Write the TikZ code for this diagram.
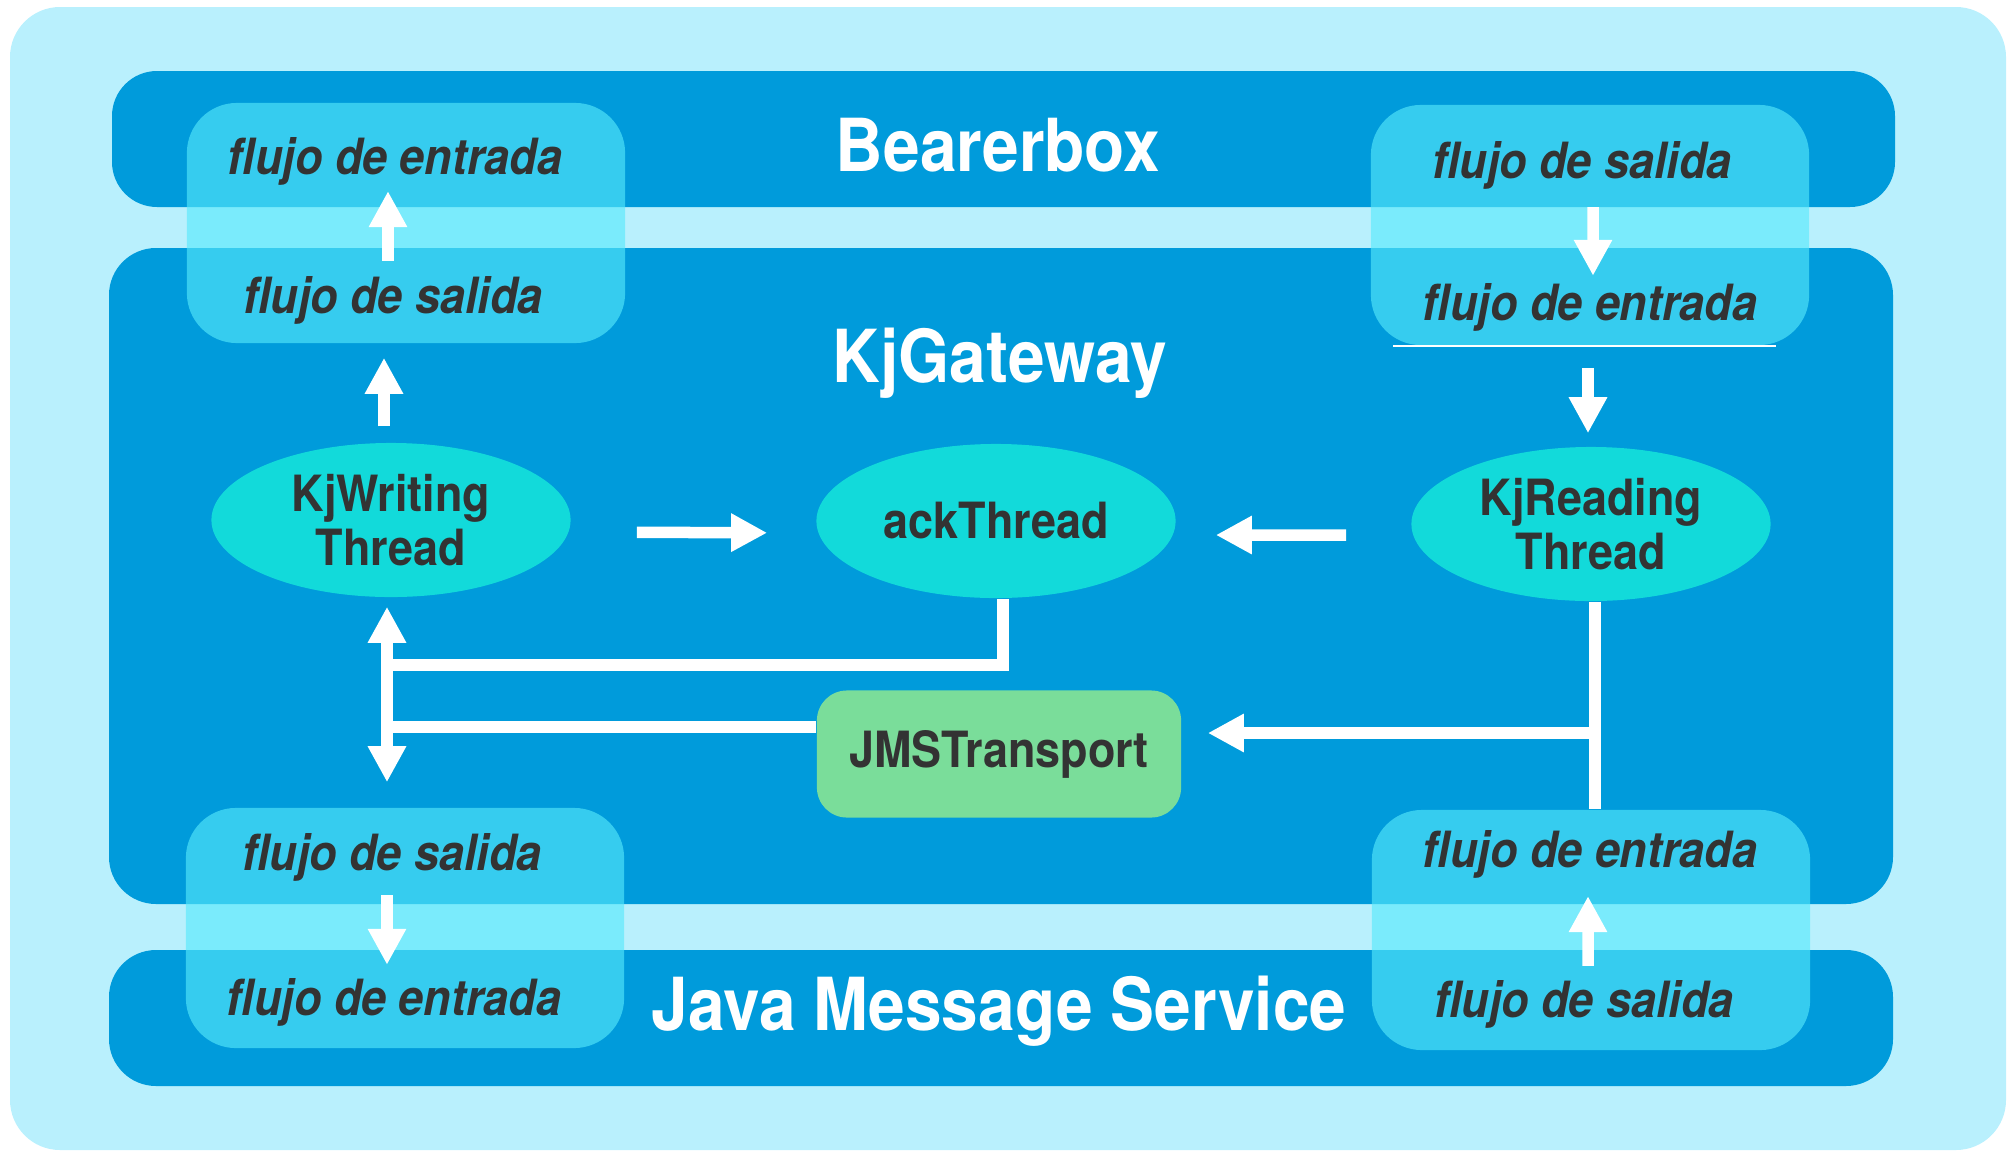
\documentclass[tikz,border=0pt]{standalone}
\usepackage{fontspec}
\setmainfont{TeX Gyre Heros}[FakeStretch=0.9]
\usetikzlibrary{shapes.geometric, arrows.meta}

\definecolor{lightbg}{RGB}{185,240,253}
\definecolor{bandblue}{RGB}{0,155,219}
\definecolor{boxcyan}{RGB}{86,233,252}
\definecolor{threadcyan}{RGB}{18,218,218}
\definecolor{jmsgreen}{RGB}{122,221,154}
\definecolor{txtgray}{RGB}{51,51,51}

\newcommand{\flowfont}{\fontsize{14.2pt}{15.4pt}\selectfont\bfseries}
\newcommand{\titlefont}{\fontsize{20.8pt}{24pt}\selectfont\bfseries}

\tikzset{
    flow/.style     = {font=\flowfont\itshape, text=txtgray, inner sep=0pt, anchor=base},
    title/.style    = {font=\titlefont, text=white, inner sep=0pt, anchor=base},
    flowbox/.style  = {rounded corners=0.5cm, fill=boxcyan, fill opacity=0.63, minimum width=4.38cm, minimum height=2.4cm},
    thread/.style   = {ellipse, fill=threadcyan, minimum width=3.59cm, minimum height=1.54cm, inner sep=0pt, align=center, font=\flowfont, text=txtgray},
    jmsbox/.style   = {rectangle, rounded corners=0.3cm, fill=jmsgreen, minimum width=3.64cm, minimum height=1.27cm, font=\flowfont, text=txtgray},
    wline/.style    = {white, line width=0.115cm},
    warrow/.style   = {wline, ->},
}

\begin{document}
\begin{tikzpicture}[x=0.01cm, y=-0.01cm, >={Triangle[length=0.36cm, width=0.36cm]}]
    \useasboundingbox (0,0) rectangle (2012,1151);
    % capas
    \fill[lightbg, rounded corners=0.5cm] (10,7) rectangle (2006,1150);
    \fill[bandblue, rounded corners=0.45cm] (112,71) rectangle (1895,207);
    \fill[bandblue, rounded corners=0.47cm] (109,248) rectangle (1893,904);
    \fill[bandblue, rounded corners=0.47cm] (109,950) rectangle (1893,1086);

    \node[flowbox] (boxTL) at ( 406, 223) {};
    \node[flowbox] (boxTR) at (1590, 225) {};
    \node[flowbox] (boxBL) at ( 405, 928) {};
    \node[flowbox] (boxBR) at (1591, 930) {};
    \draw[white, line width=0.02cm] ([xshift=0.23cm]boxTR.south west) -- ([xshift=-0.34cm]boxTR.south east);

    \node[title] (bearer)  at ( 998,  171) {Bearerbox};
    \node[title] (gateway) at (1000,  382) {KjGateway};
    \node[title] (jmsname) at ( 999, 1030) {Java Message Service};

    \node[flow] (bbIn)   at ( 395, 174) {flujo de entrada};
    \node[flow] (gwOutL) at ( 393, 313) {flujo de salida};
    \node[flow] (bbOut)  at (1582, 178) {flujo de salida};
    \node[flow] (gwInR)  at (1590, 320) {flujo de entrada};
    \node[flow] (gwOutB) at ( 392, 870) {flujo de salida};
    \node[flow] (jmsIn)  at ( 394,1015) {flujo de entrada};
    \node[flow] (gwInB)  at (1590, 867) {flujo de entrada};
    \node[flow] (jmsOut) at (1584,1017) {flujo de salida};

    \node[thread] (writing) at ( 391, 520) {KjWriting\\Thread};
    \node[thread] (ack)     at ( 996, 521) {ackThread};
    \node[thread] (reading) at (1591, 524) {KjReading\\Thread};
    \node[jmsbox] (jms)     at ( 999, 754) {JMSTransport};

    % flujos entre capas
    \draw[warrow, shorten <=0.145cm, shorten >=0.055cm] ([xshift=-0.05cm]gwOutL.north) -- ([xshift=-0.07cm]bbIn.south);
    \draw[warrow, shorten <=0.175cm, shorten >=0.065cm] ([xshift=0.11cm]bbOut.south) -- ([xshift=0.03cm]gwInR.north);
    \draw[warrow, shorten <=0.135cm, shorten >=0.125cm] ([xshift=-0.05cm]gwOutB.south) -- ([xshift=-0.07cm]jmsIn.north);
    \draw[warrow, shorten <=0.135cm, shorten >=0.175cm] ([xshift=0.04cm]jmsOut.north) -- ([xshift=-0.02cm]gwInB.south);

    \draw[warrow, shorten <=0.16cm, shorten >=0.14cm] ([xshift=-0.07cm]writing.north) -- ([xshift=-0.07cm]writing.north |- boxTL.south);
    \draw[warrow, shorten <=0.22cm, shorten >=0.13cm] ([xshift=-0.03cm]boxTR.south -| reading.north) -- ([xshift=-0.03cm]reading.north);
    \draw[warrow, shorten <=0.655cm, shorten >=0.485cm] ([yshift=-0.12cm]writing.east) -- ([yshift=-0.12cm]ack.west);
    \draw[warrow, shorten <=0.645cm, shorten >=0.395cm] ([yshift=-0.11cm]reading.west) -- ([yshift=-0.14cm]ack.east);

    % bus izquierdo
    \draw[wline, <->, shorten <=0.09cm, shorten >=0.25cm] ([xshift=-0.04cm]writing.south) -- ([xshift=-0.04cm]writing.south |- boxBL.north);
    \coordinate (ackJoin) at (387,665);
    \draw[wline] ([xshift=0.07cm]ack.south) |- (ackJoin);
    \draw[wline] ([yshift=0.27cm]jms.west) -- ([yshift=0.27cm]jms.west -| ackJoin);

    % lectura hacia JMSTransport
    \draw[wline] ([xshift=0.04cm]reading.south) -- ([xshift=0.04cm]reading.south |- boxBR.north);
    \coordinate (readJoin) at (1595,733);
    \draw[warrow, shorten >=0.26cm] (readJoin) -- (readJoin -| jms.east);
\end{tikzpicture}
\end{document}
